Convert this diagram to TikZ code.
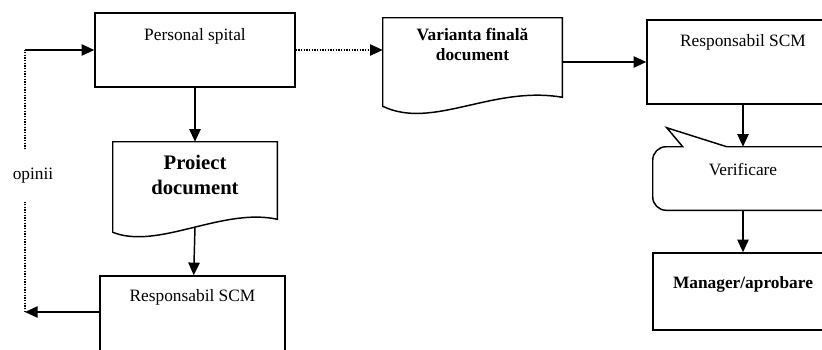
\documentclass[tikz,border=0pt]{standalone}
\usepackage{fontspec}
\setmainfont{Liberation Serif}
\usetikzlibrary{arrows.meta, positioning, calc}

\begin{document}
\begin{tikzpicture}[x=0.75pt, y=-0.75pt,
  box/.style={draw, line width=1.1pt, inner sep=0pt},
  doc/.style={inner sep=0pt},
  flow/.style={line width=1.1pt, -{Triangle[length=9.5pt,width=8.5pt]}},
  dotflow/.style={line width=0.9pt, dash pattern=on 1pt off 1pt, -{Triangle[length=9.5pt,width=8.5pt]}},
  txt/.style={font=\fontsize{13}{15}\selectfont},
  btxt/.style={font=\fontsize{13}{15}\selectfont\bfseries, align=center}]
  \useasboundingbox (0,0) rectangle (822,350);
  \clip (0,0) rectangle (822,350);

  % left column
  \node[box, minimum width=150pt, minimum height=55.5pt,
    label={[txt, anchor=center, yshift=-18pt]north:Personal spital}] (personal) at (195,50) {};
  \node[doc, minimum width=123pt, minimum height=67.5pt] (proiect) at (195,187) {};
  \node[btxt, font=\fontsize{15.5}{19}\selectfont\bfseries] at ($(proiect.north)+(0,33.5)$) {Proiect\\document};
  \node[box, minimum width=138.75pt, minimum height=63pt,
    label={[txt, anchor=center, yshift=-16.5pt]north:Responsabil SCM}] (resp2) at (192.5,318) {};

  % top row and right column
  \node[doc, minimum width=134.25pt, minimum height=66pt] (varianta) at (472.5,62) {};
  \node[btxt] at ($(varianta.north)+(0,27)$) {Varianta finală\\document};
  \node[box, minimum width=144pt, minimum height=63pt,
    label={[txt, anchor=center, yshift=-17pt]north:Responsabil SCM}] (resp1) at (743,62) {};
  \node[doc, minimum width=135pt, minimum height=47.25pt,
    label={[txt, anchor=center, yshift=-17pt]north:Verificare}] (verif) at (743,178.5) {};
  \node[box, minimum width=135pt, minimum height=57.75pt,
    label={[btxt, anchor=center, yshift=-24pt]north:Manager/aprobare}] (manager) at (743,291.5) {};

  % document outlines
  \draw[line width=1.1pt] ($(proiect.south east)+(0,-13)$) -- (proiect.north east) -- (proiect.north west)
    -- (proiect.south west) .. controls ($(proiect.south west)+(45,18)$) and ($(proiect.south east)+(-55,-25)$)
    .. ($(proiect.south east)+(0,-13)$) -- cycle;
  \draw[line width=1.1pt] ($(varianta.south east)+(0,-9)$) -- (varianta.north east) -- (varianta.north west)
    -- (varianta.south west) .. controls ($(varianta.south west)+(50,24)$) and ($(varianta.south east)+(-70,-21)$)
    .. ($(varianta.south east)+(0,-9)$) -- cycle;
  % callout outline
  \draw[line width=1.1pt] ($(verif.north east)+(20,0)$) -- ($(verif.north west)+(74,0)$)
    -- ($(verif.north west)+(14,-19)$) -- ($(verif.north west)+(30,0)$)
    [rounded corners=10pt] -- (verif.north west) -- (verif.south west)
    [sharp corners] -- ($(verif.south east)+(20,0)$);

  % connectors
  \coordinate (fbL) at (25,312);
  \coordinate (fbT) at (25,50);
  \draw[flow] (personal) -- (proiect);
  \draw[flow] ($(proiect.south)+(0,-5)$) -- (resp2);
  \draw[dotflow] (personal.east) -- (personal.east -| varianta.west);
  \draw[flow] (varianta) -- (resp1);
  \draw[flow] (resp1) -- (verif);
  \draw[flow] (verif) -- (manager);
  \draw[flow] (resp2.west |- fbL) -- (fbL);
  \draw[line width=0.9pt, dash pattern=on 1pt off 1pt] (fbL) -- node[pos=0.52, txt, fill=white, inner xsep=1pt, inner ysep=14pt, xshift=6pt] (opinii) {opinii} (fbT);
  \draw[flow] (fbT) -- (fbT -| personal.west);
\end{tikzpicture}
\end{document}
